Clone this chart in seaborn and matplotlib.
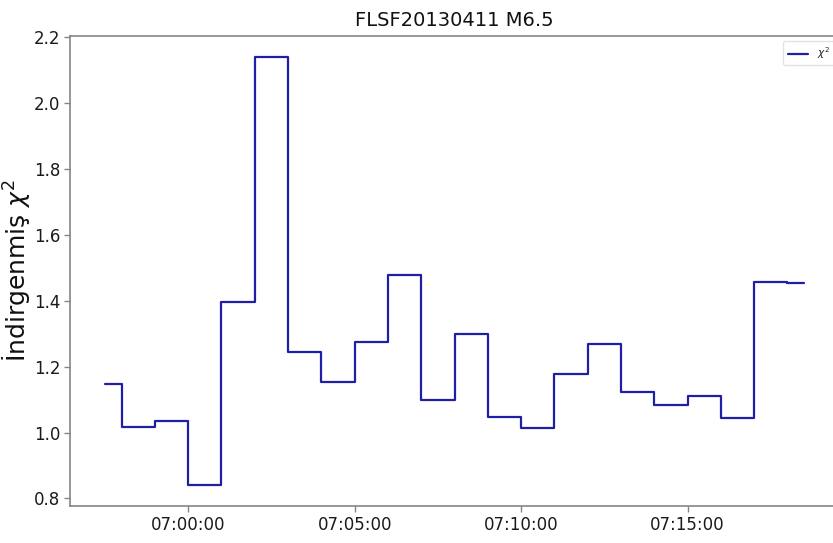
import matplotlib
matplotlib.use("Agg")
import matplotlib.pyplot as plt
import matplotlib.dates as mdates
import pandas as pd
import seaborn as sns

# One-minute reduced chi-square values, time-stamped at the centre of each bin
times = [
    "2013-04-11 06:57:30", "2013-04-11 06:58:30", "2013-04-11 06:59:30",
    "2013-04-11 07:00:30", "2013-04-11 07:01:30", "2013-04-11 07:02:30",
    "2013-04-11 07:03:30", "2013-04-11 07:04:30", "2013-04-11 07:05:30",
    "2013-04-11 07:06:30", "2013-04-11 07:07:30", "2013-04-11 07:08:30",
    "2013-04-11 07:09:30", "2013-04-11 07:10:30", "2013-04-11 07:11:30",
    "2013-04-11 07:12:30", "2013-04-11 07:13:30", "2013-04-11 07:14:30",
    "2013-04-11 07:15:30", "2013-04-11 07:16:30", "2013-04-11 07:17:30",
    "2013-04-11 07:18:30",
]
chi2_red = [
    1.148, 1.016, 1.034, 0.842, 1.395, 2.138, 1.243, 1.152, 1.274, 1.478, 1.098,
    1.298, 1.048, 1.015, 1.177, 1.270, 1.122, 1.085, 1.112, 1.045, 1.458, 1.455,
]
yticks = [0.8, 1.0, 1.2, 1.4, 1.6, 1.8, 2.0, 2.2]
title = "FLSF20130411 M6.5"
ylabel = "İndirgenmiş $\\chi^2$"
legend_label = "$\\chi^2$"

df = pd.DataFrame({"time": pd.to_datetime(times), "chi2": chi2_red})

sns.set_style("white")
plt.rcParams["font.family"] = ["DejaVu Sans"]

fig = plt.figure(figsize=(8.33, 5.43), dpi=100)
W, H = 833, 543
ax = fig.add_axes([70 / W, 37 / H, 769 / W, 470 / H])

sns.lineplot(data=df, x="time", y="chi2", ax=ax, drawstyle="steps-mid",
             color="#1e1ea6", linewidth=1.6, label=legend_label)

ax.xaxis.set_major_locator(mdates.MinuteLocator(byminute=[0, 5, 10, 15]))
ax.xaxis.set_major_formatter(mdates.DateFormatter("%H:%M:%S"))
ax.set_yticks(yticks)
ax.set_xlabel("")
ax.set_ylabel(ylabel, fontsize=18, color="#111111")
ax.yaxis.set_label_coords(-0.049, 0.5)
ax.set_title(title, fontsize=14, color="#111111", pad=7)

for lab in ax.get_xticklabels() + ax.get_yticklabels():
    lab.set_fontsize(12)
    lab.set_color("#1a1a1a")

for side in ["top", "bottom", "left", "right"]:
    ax.spines[side].set_color("#858585")
    ax.spines[side].set_linewidth(1.2)
ax.tick_params(axis="both", which="both", direction="out", length=4,
               width=1, color="#858585", left=True, bottom=True, pad=3)

leg = ax.legend(loc="upper right", fontsize=7.5, frameon=True, handlelength=2.0)
leg.get_frame().set_edgecolor("#dddddd")

fig.savefig("out.png", dpi=100)
